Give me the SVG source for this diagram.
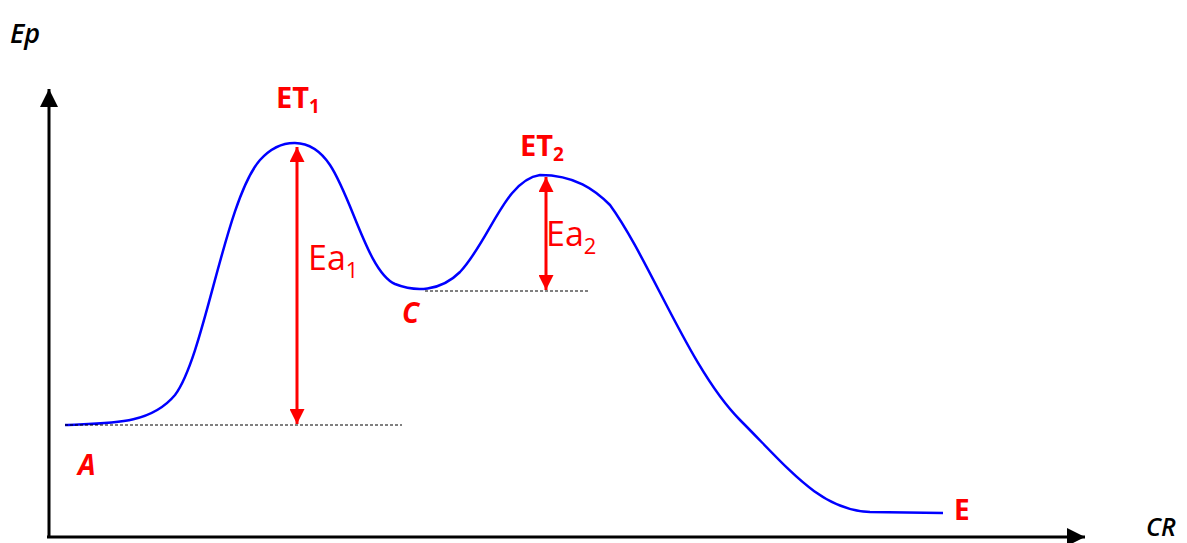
<svg xmlns="http://www.w3.org/2000/svg" width="1187" height="543" viewBox="0 0 1187 543">
<style>
.lbl{font-family:"Open Sans","Liberation Sans",sans-serif;fill:#ff0000}
.b{font-weight:bold}
.ax{font-family:"Open Sans","Liberation Sans",sans-serif;font-style:italic;font-weight:600;fill:#000}
.dash{stroke:#000;stroke-width:1;stroke-dasharray:3,2;fill:none}
.red{stroke:#ff0000;stroke-width:3;fill:none}
</style>
<defs>
<marker id="ah" viewBox="0 0 10 10" refX="10" refY="5" markerWidth="6" markerHeight="6" markerUnits="strokeWidth" orient="auto"><path d="M0,0 L10,5 L0,10 Z" fill="#000"/></marker>
<marker id="rh" viewBox="0 0 10 10" refX="10" refY="5" markerWidth="6" markerHeight="5" markerUnits="strokeWidth" orient="auto-start-reverse"><path d="M0,0 L10,5 L0,10 Z" fill="#ff0000"/></marker>
</defs>
<rect width="1187" height="543" fill="#fff"/>
<g id="axes">
<line x1="49" y1="538" x2="49" y2="89" stroke="#000" stroke-width="3" marker-end="url(#ah)"/>
<line x1="47" y1="537" x2="1085" y2="537" stroke="#000" stroke-width="3" marker-end="url(#ah)"/>
<text class="ax" x="10" y="43" font-size="27">Ep</text>
<text class="ax" x="1146" y="536" font-size="25">CR</text>
</g>
<g id="curve">
<path d="M65,425 C110,423 150,425 175,395 C205,355 225,200 260,160 C280,138 310,135 330,165 C352,198 368,272 395,284 C415,292 440,292 460,272 C490,240 505,180 540,175 C575,175 595,190 610,205 C650,260 690,370 740,420 C790,470 820,510 870,512 L943,513" fill="none" stroke="#0000ff" stroke-width="2.5"/>
</g>
<g id="connectors">
<line class="dash" x1="65" y1="425" x2="402" y2="425"/>
<line class="dash" x1="425" y1="291" x2="590" y2="291"/>
<line class="red" x1="297" y1="147" x2="297" y2="424" marker-start="url(#rh)" marker-end="url(#rh)"/>
<line class="red" x1="546" y1="177" x2="546" y2="290" marker-start="url(#rh)" marker-end="url(#rh)"/>
</g>
<g id="ET1"><text class="lbl b" x="276" y="108" font-size="29">ET<tspan font-size="19" dy="5">1</tspan></text></g>
<g id="ET2"><text class="lbl b" x="520" y="156" font-size="29">ET<tspan font-size="19" dy="5">2</tspan></text></g>
<g id="Ea1"><text class="lbl" x="308" y="270" font-size="34">Ea<tspan font-size="22" dy="8">1</tspan></text></g>
<g id="Ea2"><text class="lbl" x="546" y="246" font-size="34">Ea<tspan font-size="22" dy="8">2</tspan></text></g>
<g id="A"><text class="lbl b" x="78" y="475" font-size="28" font-style="italic">A</text></g>
<g id="C"><text class="lbl b" x="402" y="323" font-size="28" font-style="italic">C</text></g>
<g id="E"><text class="lbl b" x="954" y="520" font-size="28">E</text></g>
</svg>
